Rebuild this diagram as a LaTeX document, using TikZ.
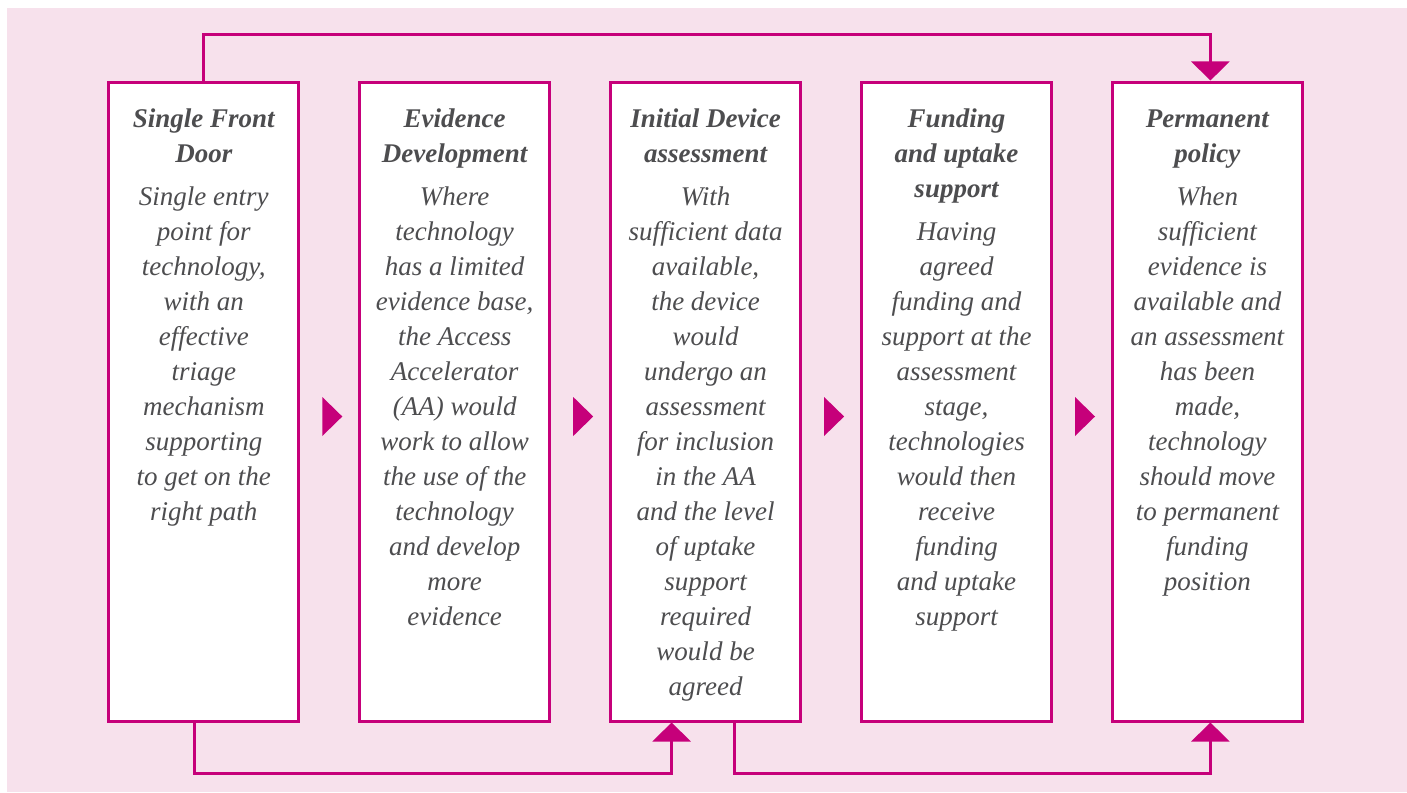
\documentclass[tikz,border=0pt]{standalone}
\usepackage{fontspec}
\setmainfont{Liberation Serif}
\usetikzlibrary{arrows.meta}
\definecolor{mag}{RGB}{198,0,122}
\definecolor{bgpink}{RGB}{247,225,236}
\definecolor{txtgray}{RGB}{77,77,79}
\begin{document}
\begin{tikzpicture}[x=1pt,y=-1pt,
 stagebox/.style={draw=mag, line width=3pt, fill=white, minimum width=190pt, minimum height=639pt, inner sep=0pt},
 stagetext/.style={anchor=north, align=center, text=txtgray, inner sep=0pt, font=\fontsize{27}{35}\selectfont\itshape},
 conn/.style={draw=mag, line width=3pt, -{Triangle[width=38pt,length=19pt]}},
 nexttri/.style={fill=mag}]
\useasboundingbox (0,0) rectangle (1407,792);
\fill[bgpink] (7,8) rectangle (1407,792);
\node[stagebox] (b1) at (203.8,401.5) {};
\node[stagebox] (b2) at (454.7,401.5) {};
\node[stagebox] (b3) at (705.6,401.5) {};
\node[stagebox] (b4) at (956.5,401.5) {};
\node[stagebox] (b5) at (1207.4,401.5) {};
\node[stagetext] (t1) at (203.8,102.5) {\strut\textbf{Single Front}\\\textbf{Door}\\[8pt]Single entry\\point for\\technology,\\with an\\effective\\triage\\mechanism\\supporting\\to get on the\\right path};
\node[stagetext] (t2) at (454.7,102.5) {\strut\textbf{Evidence}\\\textbf{Development}\\[8pt]Where\\technology\\has a limited\\evidence base,\\the Access\\Accelerator\\(AA) would\\work to allow\\the use of the\\technology\\and develop\\more\\evidence};
\node[stagetext] (t3) at (705.6,102.5) {\strut\textbf{Initial Device}\\\textbf{assessment}\\[8pt]With\\sufficient data\\available,\\the device\\would\\undergo an\\assessment\\for inclusion\\in the AA\\and the level\\of uptake\\support\\required\\would be\\agreed};
\node[stagetext] (t4) at (956.5,102.5) {\strut\textbf{Funding}\\\textbf{and uptake}\\\textbf{support}\\[8pt]Having\\agreed\\funding and\\support at the\\assessment\\stage,\\technologies\\would then\\receive\\funding\\and uptake\\support};
\node[stagetext] (t5) at (1207.4,102.5) {\strut\textbf{Permanent}\\\textbf{policy}\\[8pt]When\\sufficient\\evidence is\\available and\\an assessment\\has been\\made,\\technology\\should move\\to permanent\\funding\\position};
\foreach \c in {203.8,454.7,705.6,956.5}{
  \fill[nexttri] (\c+118.5,397) -- (\c+138.5,416.5) -- (\c+118.5,436) -- cycle;
}
\draw[conn] (b1.north) -- (b1.north |- 0,35) -| ([xshift=3pt]b5.north);
\draw[conn] ([xshift=-9pt]b1.south) -- ++(0,51) -| ([xshift=-34pt]b3.south);
\draw[conn] ([xshift=29pt]b3.south) -- ++(0,51) -| ([xshift=3pt]b5.south);
\end{tikzpicture}
\end{document}
